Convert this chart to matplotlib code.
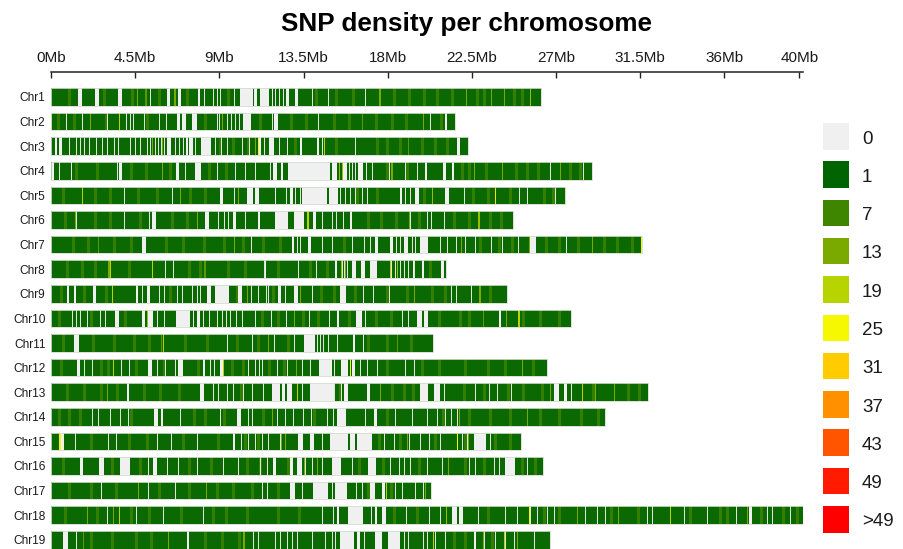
import matplotlib
matplotlib.use("Agg")
import matplotlib.pyplot as plt
from matplotlib.colors import LinearSegmentedColormap
from matplotlib.patches import Rectangle

plt.rcParams['font.family'] = ['Liberation Sans', 'DejaVu Sans']

# values, all positions in Mb
chr_names = ["Chr%d" % i for i in range(1, 20)]
chr_lengths = [26.2, 21.6, 22.3, 28.9, 27.5, 24.7, 31.6, 21.1, 24.4, 27.8,
               20.4, 26.5, 31.9, 29.6, 25.1, 26.3, 20.3, 40.2, 26.7]

tick_pos = [0, 4.5, 9, 13.5, 18, 22.5, 27, 31.5, 36, 40]
tick_labels = ["0Mb", "4.5Mb", "9Mb", "13.5Mb", "18Mb", "22.5Mb", "27Mb", "31.5Mb", "36Mb", "40Mb"]

legend_labels = ["0", "1", "7", "13", "19", "25", "31", "37", "43", "49", ">49"]
legend_colors = ["#f0f0f0", "#006400", "#3f8600", "#7aaa00", "#b8d400", "#f5f800",
                 "#ffcc00", "#ff9000", "#ff5500", "#ff1a00", "#ff0000"]
legend_values = [1, 7, 13, 19, 25, 31, 37, 43, 49]

# empty stretches, (start, end)
chr_gaps = [
    [(1.47, 1.66), (2.35, 2.55), (3.60, 3.78), (6.19, 6.36), (6.81, 6.93), (7.88, 7.97), (10.10, 10.78), (10.87, 11.00), (11.16, 11.68), (11.80, 11.89), (12.55, 12.71), (13.05, 13.23)],
    [(6.72, 6.90), (7.01, 7.20), (7.52, 7.79), (10.29, 10.68), (11.94, 12.12), (21.07, 21.16)],
    [(0.20, 0.30), (0.45, 0.60), (6.20, 6.40), (7.20, 7.30), (7.38, 7.58), (8.00, 8.55), (11.10, 11.25), (11.65, 11.90), (13.30, 13.40), (14.20, 14.30), (21.70, 21.87)],
    [(0.08, 0.18), (3.65, 3.82), (6.67, 6.86), (7.70, 8.02), (11.89, 12.06), (12.28, 12.39), (12.69, 14.92), (15.00, 15.28), (15.63, 15.81), (16.43, 16.67), (20.00, 20.12), (20.98, 21.10), (21.43, 21.55)],
    [(9.04, 9.18), (10.50, 10.78), (10.90, 11.14), (11.95, 12.05), (12.78, 12.92), (13.40, 14.74), (14.88, 15.33), (18.66, 18.77), (19.47, 19.65), (21.07, 21.25)],
    [(5.38, 5.61), (8.24, 8.47), (9.71, 9.88), (11.05, 11.18), (11.98, 12.69), (13.00, 13.55), (14.03, 14.15), (15.99, 16.10)],
    [(4.85, 5.06), (12.89, 12.99), (13.76, 13.89), (17.33, 17.50), (18.13, 18.27), (18.88, 19.06), (19.70, 20.18), (25.60, 25.94)],
    [(11.39, 11.50), (15.19, 15.31), (16.10, 16.30), (16.56, 16.76), (17.06, 17.45), (19.34, 19.47), (19.82, 19.95), (20.84, 21.02)],
    [(0.84, 0.96), (1.23, 1.35), (2.26, 2.39), (4.55, 4.67), (5.12, 5.29), (8.32, 8.54), (8.77, 9.54), (10.02, 10.23), (12.12, 12.30), (12.99, 13.23), (15.45, 15.76)],
    [(3.42, 3.64), (4.85, 5.03), (5.20, 5.47), (6.67, 7.43), (7.79, 7.97), (15.31, 15.42), (16.31, 16.61), (19.59, 19.82), (19.95, 20.18), (23.93, 24.07)],
    [(1.23, 1.48), (13.50, 14.12), (16.17, 16.26)],
    [(1.41, 1.55), (5.20, 5.38), (6.81, 7.04), (8.11, 8.24), (9.04, 9.18), (14.33, 15.01), (15.49, 15.90), (16.08, 16.26)],
    [(4.08, 4.19), (7.97, 8.18), (11.80, 12.25), (12.35, 12.52), (12.62, 12.87), (13.85, 15.15), (15.68, 15.86), (16.88, 17.06), (19.73, 20.18), (20.45, 20.77), (26.87, 27.13), (27.40, 27.58)],
    [(5.51, 5.74), (5.86, 6.00), (9.96, 10.16), (15.28, 15.76), (17.27, 17.42)],
    [(0.55, 0.68), (9.75, 9.86), (13.23, 13.49), (13.85, 14.08), (14.92, 15.90), (15.99, 16.26), (16.38, 17.18), (22.59, 23.26)],
    [(1.55, 1.69), (2.58, 2.85), (3.69, 4.22), (5.44, 5.65), (11.89, 12.03), (12.78, 12.96), (13.14, 13.40), (15.01, 15.49), (16.97, 17.38), (24.28, 24.82)],
    [(12.75, 13.05), (13.99, 14.83), (15.19, 15.81), (17.06, 17.33), (17.68, 17.86)],
    [(15.31, 15.42), (15.90, 16.70), (17.33, 17.45), (17.68, 17.91), (21.43, 21.70), (21.79, 22.00), (37.30, 37.48)],
    [(0.66, 0.93), (7.25, 7.40), (15.45, 16.20), (16.35, 16.53), (17.33, 17.68), (18.04, 18.66), (22.59, 22.73)],
]

# one pixel wide empty bins
chr_thin = [
    [5.30, 8.16, 8.42, 8.66, 8.88, 9.06, 9.80, 12.00, 12.20, 12.27, 12.40, 13.95, 14.79, 16.81],
    [0.81, 1.66, 2.54, 3.00, 4.02, 4.20, 4.41, 4.68, 4.95, 5.80, 6.16, 8.87, 8.99, 9.40, 9.62, 9.83, 10.05, 11.81, 14.27, 20.28],
    [0.98, 1.34, 1.56, 1.78, 2.03, 2.39, 2.73, 3.01, 3.36, 3.59, 3.93, 4.21, 4.51, 4.76, 5.11, 5.31, 5.56, 5.71, 5.86, 6.06, 6.61, 6.86, 7.06, 7.71, 8.79, 9.11, 9.43, 10.21, 10.59, 11.41, 12.21, 12.61, 14.51, 16.26],
    [0.41, 1.05, 3.51, 7.18, 8.87, 9.85, 10.35, 10.92, 11.36, 11.72, 15.91, 16.09, 16.23, 16.86, 17.16, 17.51, 18.05, 18.94, 19.56, 26.66, 28.46],
    [3.88, 6.46, 9.76, 12.56, 13.06, 13.18, 13.29, 15.45, 15.72, 15.99, 16.25, 16.61, 16.88, 18.93, 19.20, 22.06, 25.00, 25.45, 26.96],
    [1.35, 3.88, 5.25, 8.91, 9.26, 9.46, 10.35, 14.48, 15.01, 15.25, 15.61, 19.17, 20.10, 20.31, 20.99],
    [10.69, 13.14, 13.32, 14.48, 15.01, 16.08, 16.44, 16.71, 17.03, 18.42, 18.66, 19.29, 19.46, 20.80, 21.17, 21.67, 22.15, 22.69, 23.54, 24.11, 24.99, 27.51],
    [6.11, 6.51, 11.40, 13.20, 14.18, 15.55, 15.67, 15.81, 18.16, 18.39, 18.64, 18.88, 19.07, 19.40],
    [4.86, 5.80, 6.05, 6.73, 6.99, 7.52, 7.79, 7.97, 10.68, 11.09, 11.48, 11.59, 12.52, 12.75, 13.95, 16.70, 17.24, 17.51, 18.05, 21.40, 21.67, 22.44],
    [1.11, 1.34, 1.55, 1.94, 2.62, 2.89, 5.65, 6.06, 7.57, 8.15, 8.47, 8.69, 8.90, 9.13, 9.36, 9.57, 9.89, 10.21, 10.91, 11.75, 12.57, 13.78, 14.84, 16.79, 18.75, 19.11],
    [9.40, 10.24, 10.74, 11.90, 13.00, 14.21, 14.39, 14.53, 14.83, 15.28, 16.68],
    [0.99, 1.77, 2.18, 3.73, 4.19, 5.65, 6.10, 6.63, 8.50, 8.72, 10.55, 10.91, 11.10, 11.27, 12.07, 12.60, 13.40, 13.85, 15.15, 16.53, 16.88, 17.42, 18.93, 19.40],
    [7.30, 8.68, 8.95, 9.40, 9.75, 10.29, 10.74, 11.35, 13.18, 13.40, 15.14, 15.50, 21.00, 21.25, 22.68, 23.43, 23.86, 24.58, 27.80],
    [2.18, 2.53, 3.15, 3.69, 4.13, 6.89, 9.03, 10.55, 10.76, 12.07, 12.52, 12.96, 13.49, 13.88, 14.74, 15.10, 16.79, 18.40, 19.29, 20.09, 20.62, 21.07, 21.40, 21.70],
    [0.99, 1.26, 3.07, 3.47, 5.69, 6.42, 7.83, 10.14, 10.55, 10.91, 11.27, 11.62, 12.25, 14.47, 17.78, 18.36, 19.16, 19.38, 19.73, 20.19, 20.80, 21.52, 21.96, 22.23, 23.48],
    [5.20, 6.19, 6.81, 7.79, 9.21, 10.02, 11.18, 11.53, 12.43, 13.58, 13.94, 14.47, 16.08, 18.13, 18.58, 18.85, 19.20, 20.09, 20.89, 22.33, 22.68, 23.66, 23.97, 25.46],
    [2.67, 5.18, 6.61, 11.30, 11.54, 13.41, 15.01, 16.31, 16.61, 18.40, 18.75, 19.06, 19.47, 19.87],
    [2.99, 4.53, 5.98, 8.14, 11.36, 14.47, 15.10, 17.10, 18.98, 20.19, 20.80, 22.85, 24.28, 24.91, 25.62, 25.98, 26.51, 26.87, 27.40, 28.56, 29.19, 29.64, 31.86, 32.12, 33.82, 35.07, 36.60, 38.30, 38.55, 39.52],
    [1.34, 10.82, 11.09, 12.00, 12.25, 12.43, 12.61, 12.87, 13.14, 13.50, 13.94, 14.65, 15.01, 15.19, 16.71, 17.19, 18.85, 19.11, 19.38, 19.91, 20.09, 20.53, 21.07, 23.13, 23.75, 24.03, 24.28, 24.73, 25.80],
]

# bins that stand out, (position, SNP count)
chr_peaks = [
    [(4.58, 13), (5.05, 10), (6.60, 13), (17.56, 13), (22.20, 13), (23.50, 13), (24.20, 13), (25.60, 16)],
    [(0.00, 19), (3.65, 19), (2.10, 13), (9.15, 13), (19.90, 13), (16.60, 10)],
    [(11.09, 25), (10.90, 13), (5.40, 13), (5.95, 13), (14.60, 19), (19.10, 10)],
    [(7.75, 25), (5.95, 13), (15.40, 16), (15.55, 16), (18.20, 13), (24.10, 13), (22.60, 13), (27.20, 13)],
    [(1.64, 19), (10.00, 13), (20.36, 16), (21.16, 19), (23.75, 28), (27.48, 25), (18.90, 13), (6.90, 13)],
    [(13.71, 19), (19.16, 13), (7.79, 13), (22.85, 16), (1.30, 13), (5.25, 13)],
    [(31.55, 25), (9.80, 13), (21.90, 13), (25.55, 13), (28.90, 13), (2.50, 10), (13.30, 13)],
    [(3.07, 13), (3.16, 19), (5.38, 19), (6.51, 13), (18.10, 19), (15.52, 16), (15.70, 13), (8.20, 10), (18.50, 16)],
    [(3.24, 19), (13.30, 13), (10.46, 13), (19.40, 13), (22.90, 13)],
    [(5.12, 16), (5.35, 13), (24.99, 19), (24.30, 13), (13.00, 13), (23.10, 10)],
    [(6.00, 19), (5.90, 10), (11.60, 13), (18.50, 10)],
    [(3.33, 19), (9.18, 19), (14.30, 19), (16.00, 25), (25.17, 13), (13.10, 13)],
    [(28.38, 19), (26.69, 13), (13.14, 19), (2.98, 13), (17.60, 13), (29.10, 13), (30.10, 13)],
    [(2.17, 13), (9.93, 19), (25.44, 13), (11.80, 13), (12.50, 13), (21.80, 13)],
    [(0.45, 25), (19.02, 13), (21.70, 25), (12.30, 13), (12.50, 13), (22.30, 13)],
    [(9.21, 19), (1.55, 19), (21.20, 13), (14.20, 13), (13.50, 13)],
    [(12.82, 25), (17.92, 19), (4.67, 13), (8.30, 13), (20.00, 13)],
    [(1.91, 13), (3.65, 19), (25.53, 25), (33.10, 19), (28.11, 13), (37.20, 13), (3.30, 13), (21.10, 16), (30.30, 13)],
    [(17.50, 25), (20.40, 19), (6.27, 13), (10.29, 13), (24.20, 19), (24.90, 13), (23.10, 13), (1.70, 10)],
]

# the faint mid green bands inside the bars
chr_bands = [
    [0.90, 2.80, 4.30, 5.70, 7.20, 9.40, 14.10, 15.20, 16.10, 18.30, 19.10, 19.90, 20.60, 21.40, 22.70, 23.10, 24.70, 25.10],
    [0.30, 1.20, 2.90, 5.10, 8.20, 11.10, 12.80, 13.60, 15.10, 15.90, 17.30, 18.20, 18.90, 20.80],
    [9.00, 9.70, 10.50, 13.00, 15.20, 17.40, 17.90, 18.60, 19.80, 20.50, 21.10],
    [1.30, 2.40, 4.20, 5.00, 6.30, 8.40, 9.30, 17.90, 19.00, 21.90, 22.30, 23.20, 24.80, 25.40, 26.00, 27.70, 28.20],
    [0.60, 2.30, 3.10, 4.60, 5.60, 7.40, 8.20, 16.30, 17.40, 19.90, 22.50, 23.30, 24.50, 26.30, 26.80],
    [0.70, 2.30, 3.10, 4.70, 6.40, 7.20, 16.90, 17.60, 18.40, 19.60, 21.50, 22.30, 23.40, 24.00],
    [1.10, 1.90, 3.30, 4.20, 6.10, 7.00, 8.10, 9.20, 10.20, 11.30, 12.20, 15.60, 22.90, 23.90, 24.60, 26.40, 27.10, 28.10, 29.50, 30.20, 31.00],
    [0.80, 1.60, 2.30, 4.10, 7.30, 7.90, 9.40, 10.30, 12.10, 13.80, 14.70, 20.20],
    [0.50, 1.70, 2.90, 6.30, 9.90, 11.80, 14.40, 15.10, 16.20, 17.90, 19.00, 20.30, 21.00, 23.40],
    [0.40, 2.10, 3.90, 11.20, 12.10, 13.40, 14.20, 15.90, 17.30, 18.10, 20.70, 21.80, 22.30, 25.20, 26.10, 27.10],
    [0.60, 2.20, 3.30, 4.40, 5.20, 7.10, 8.30, 9.90, 11.00, 12.60, 16.90, 17.90, 19.20],
    [0.50, 2.60, 3.00, 4.50, 6.00, 7.80, 9.60, 10.20, 11.60, 12.40, 17.90, 19.80, 20.70, 22.10, 23.30, 24.20, 25.70],
    [0.80, 1.70, 2.60, 3.50, 4.90, 5.80, 6.80, 10.10, 15.40, 18.20, 18.80, 19.30, 22.00, 23.10, 24.40, 25.20, 26.20, 28.90, 30.80, 31.40],
    [0.40, 0.90, 1.50, 4.20, 7.60, 8.20, 9.20, 11.30, 14.00, 17.90, 20.90, 22.30, 23.40, 24.50, 26.10, 27.10, 28.30, 29.20],
    [2.10, 4.10, 5.10, 7.00, 8.90, 10.30, 11.00, 17.50, 18.60, 20.50, 22.10, 23.70, 24.50],
    [0.60, 3.20, 4.70, 7.30, 8.50, 10.40, 11.10, 12.60, 16.40, 17.70, 19.60, 22.10, 23.10, 25.10, 25.80],
    [0.90, 2.10, 3.40, 5.70, 7.30, 8.80, 9.70, 10.70, 12.10, 16.90, 18.10],
    [0.70, 2.40, 4.20, 5.20, 6.90, 8.60, 9.30, 10.40, 12.10, 13.20, 18.30, 19.50, 23.30, 26.30, 27.10, 29.90, 31.30, 34.10, 35.70, 36.10, 37.90, 39.10, 39.80],
    [2.10, 3.20, 4.50, 5.30, 8.20, 9.10, 10.00, 21.50, 22.10, 23.50],
]

THIN_WIDTH = 0.05
BIN_WIDTH = 0.06
BAND_WIDTH = 0.16

density_cmap = LinearSegmentedColormap.from_list("snp", legend_colors[1:10])


def density_color(count):
    return density_cmap((count - legend_values[0]) / (legend_values[-1] - legend_values[0]))


def draw_chromosome(ax, row, length, gaps, thin, peaks, bands):
    bar_h = 0.72
    ax.barh(row, length, height=bar_h, color=density_color(2), linewidth=0)
    for pos in bands:
        ax.barh(row, BAND_WIDTH, left=pos, height=bar_h, color=density_color(6), linewidth=0)
    for pos, count in peaks:
        ax.barh(row, BIN_WIDTH, left=pos, height=bar_h, color=density_color(count), linewidth=0)
    for start, end in gaps:
        ax.barh(row, end - start, left=start, height=bar_h, color=legend_colors[0], linewidth=0)
    for pos in thin:
        ax.barh(row, THIN_WIDTH, left=pos, height=bar_h, color="#dfe6dc", linewidth=0)
    # pale rim round each bar
    ax.barh(row, length, height=bar_h, facecolor="none", edgecolor="#d4dcd0", linewidth=0.6)


fig = plt.figure(figsize=(9.04, 5.49), dpi=100)
W, H = 904.0, 549.0
# x: 51..803 px is 0..40.2 Mb, top spine sits at y=72 px
ax = fig.add_axes([51 / W, 0, 752 / W, (H - 72) / H])
ax.set_xlim(0, 40.2)
ax.set_ylim((549 - 97) / 24.6, (72 - 97) / 24.6)

for i, name in enumerate(chr_names):
    draw_chromosome(ax, i, chr_lengths[i], chr_gaps[i], chr_thin[i], chr_peaks[i], chr_bands[i])

for side in ["left", "right", "bottom"]:
    ax.spines[side].set_visible(False)
ax.spines["top"].set_linewidth(1.1)
ax.spines["top"].set_color("#222222")
ax.xaxis.tick_top()
ax.set_xticks(tick_pos)
ax.set_xticklabels(tick_labels, fontsize=11, color="#1a1a1a")
ax.tick_params(axis="x", direction="in", length=4, width=1.0, pad=5, color="#222222")
ax.set_yticks(range(len(chr_names)))
ax.set_yticklabels(chr_names, fontsize=8.6, color="#1a1a1a")
ax.tick_params(axis="y", length=0, pad=4)

fig.text(467 / W, 1 - 23.5 / H, "SNP density per chromosome", ha="center", va="center",
         fontsize=18.8, fontweight="bold", color="black")

# colour key on the right
leg = fig.add_axes([0, 0, 1, 1])
leg.set_xlim(0, W)
leg.set_ylim(H, 0)
leg.axis("off")
leg.patch.set_alpha(0)
for i, (label, color) in enumerate(zip(legend_labels, legend_colors)):
    top = 123 + i * 38.3
    leg.add_patch(Rectangle((823, top), 26.5, 26.5, facecolor=color, edgecolor="none"))
    leg.text(862, top + 16, label, ha="left", va="center", fontsize=13.5, color="#1a1a1a")

fig.savefig("out.png", dpi=100)
